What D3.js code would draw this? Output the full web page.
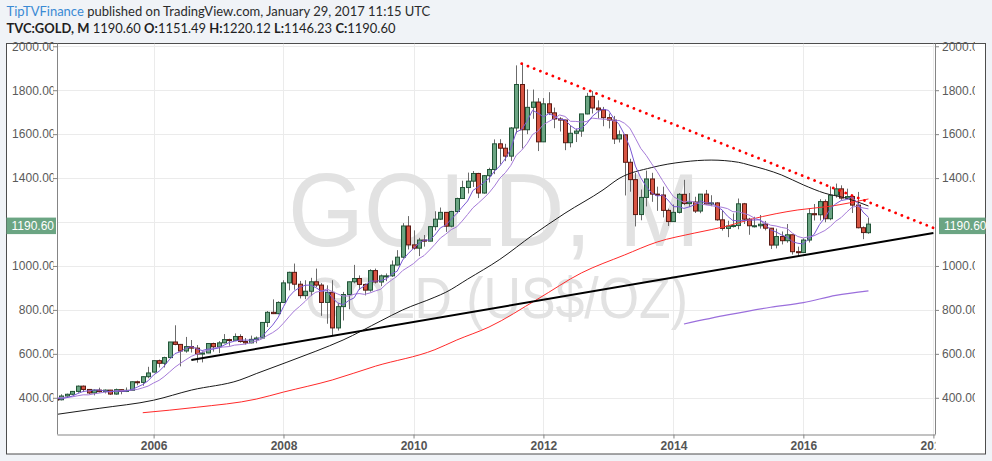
<!DOCTYPE html>
<html><head><meta charset="utf-8">
<script src="https://cdn.jsdelivr.net/npm/d3@7/dist/d3.min.js"></script>
<style>
html,body{margin:0;padding:0;background:#f0f3f7;}
svg{display:block;}
</style></head><body>
<svg id="chart" width="992" height="461"></svg>
<script>
// ---------- DATA (monthly TVC:GOLD, first month 2003-10) ----------
const firstMonth = "2003-10";
const opens = [
  388,386,397,
  416,403,396,424,387,394,394,391,408,416,429,453,
  438,422,435,428,435,417,437,429,434,473,470,496,
  517,569,557,583,654,643,613,633,626,599,604,647,
  632,650,665,662,679,656,650,666,672,743,789,783,
  834,923,971,917,865,885,928,913,834,880,718,815,
  870,928,943,916,890,979,927,955,955,1004,1040,1182,
  1096,1081,1118,1113,1179,1213,1244,1181,1248,1307,1357,1386,
  1421,1332,1411,1439,1556,1536,1500,1628,1826,1620,1722,1746,
  1565,1738,1697,1669,1664,1561,1604,1614,1692,1772,1719,1711,
  1675,1664,1578,1597,1472,1393,1234,1312,1396,1327,1323,1253,
  1202,1244,1326,1284,1291,1250,1327,1282,1287,1210,1171,1182,
  1184,1283,1213,1183,1183,1190,1172,1095,1134,1115,1142,1065,
  1061,1118,1238,1233,1293,1215,1322,1351,1309,1316,1277,1174,
  1151.49
];
const highs = [
  392,399,417,
  427,420,427,428,397,400,408,416,419,431,456,456,
  438,438,446,438,436,442,438,447,474,478,497,541,
  570,574,587,654,730,645,677,663,640,611,649,651,
  658,690,669,693,689,672,683,679,745,795,848,839,
  935,974,1011,932,935,946,988,922,912,935,830,882,
  929,1005,957,920,985,988,961,966,1025,1072,1195,1227,
  1162,1128,1141,1181,1249,1266,1245,1251,1311,1388,1425,1432,
  1424,1414,1447,1576,1577,1556,1632,1913,1921,1804,1803,1764,
  1764,1791,1721,1677,1666,1640,1625,1691,1788,1796,1754,1724,
  1694,1683,1617,1598,1488,1424,1348,1434,1424,1361,1361,1261,
  1280,1332,1392,1332,1315,1326,1346,1322,1290,1255,1206,1239,
  1307,1287,1219,1224,1232,1205,1173,1170,1157,1191,1142,1088,
  1126,1263,1282,1304,1303,1362,1375,1367,1352,1318,1337,1180,
  1220.12
];
const lows = [
  366,378,397,
  399,392,391,386,372,383,386,388,399,412,423,426,
  417,411,424,420,413,414,416,426,433,457,455,489,
  515,538,538,583,639,543,605,606,560,561,603,610,
  603,648,637,662,651,642,648,648,669,722,781,780,
  833,889,892,852,849,863,904,773,737,681,706,752,
  803,921,891,866,883,920,908,931,950,1003,1034,1075,
  1074,1045,1088,1112,1162,1209,1155,1176,1240,1308,1330,1360,
  1309,1329,1380,1418,1462,1477,1478,1603,1535,1600,1670,1523,
  1564,1687,1627,1612,1527,1540,1564,1588,1690,1694,1672,1636,
  1626,1555,1562,1321,1338,1180,1208,1271,1292,1251,1221,1182,
  1202,1239,1277,1268,1241,1240,1280,1272,1206,1161,1131,1175,
  1167,1191,1142,1175,1170,1162,1077,1080,1098,1106,1052,1046,
  1060,1107,1207,1207,1199,1208,1311,1301,1303,1241,1171,1122,
  1146.23
];
const closes = [
  386,397,416,
  402,396,424,387,394,395,391,408,416,429,453,438,
  422,435,428,435,417,437,429,434,473,470,496,513,
  569,557,583,654,643,613,633,626,599,604,647,632,
  650,665,662,679,656,650,666,672,743,789,783,834,
  923,971,917,865,885,928,913,834,880,718,815,870,
  928,943,916,890,979,927,955,955,1004,1040,1182,1096,
  1081,1118,1113,1179,1213,1244,1181,1248,1307,1357,1386,1421,
  1332,1411,1439,1556,1536,1500,1628,1826,1620,1722,1746,1565,
  1738,1697,1669,1664,1561,1604,1614,1692,1772,1719,1711,1675,
  1664,1578,1597,1472,1393,1234,1312,1396,1327,1323,1253,1202,
  1244,1326,1284,1291,1250,1327,1282,1287,1210,1171,1182,1184,
  1283,1213,1183,1183,1190,1172,1095,1134,1115,1142,1065,1061,
  1118,1238,1233,1293,1215,1322,1351,1309,1316,1277,1174,1152,
  1190.60
];
// Long moving averages (month, value)
const blackMA = [["2004-07",324],["2005-03",352],["2006-01",389],["2006-08",435],["2007-05",481],
  ["2007-08",510],["2008-07",612],["2008-12",663],["2009-07",750],["2009-11",800],["2010-05",858],
  ["2010-07",880],["2010-11",940],["2011-05",1030],["2011-11",1140],["2012-05",1240],["2012-12",1346],
  ["2013-03",1398],["2013-09",1448],["2014-03",1474],["2014-08",1482],["2015-01",1472],["2015-03",1460],
  ["2015-09",1414],["2016-01",1369],["2016-05",1331],["2016-09",1308],["2017-01",1273]];
const redMA = [["2005-11",332],["2006-09",357],["2007-08",394],["2008-01",426],["2008-10",481],
  ["2009-06",544],["2010-05",619],["2010-09",663],["2011-03",722],["2011-12",850],["2012-08",968],
  ["2013-04",1050],["2013-10",1109],["2014-05",1150],["2014-11",1182],["2015-03",1210],["2015-08",1238],
  ["2015-12",1255],["2016-06",1272],["2017-01",1305]];
const purpleMA = [["2014-03",736],["2014-11",777],["2015-07",812],["2016-01",833],["2016-07",866],["2017-01",887]];
// Drawn trend lines (date, value)
const supportLine = [["2006-08",572],["2018-01",1150]];
const resistanceLine = [["2011-09",1921],["2018-01",1173]];
// Axis ticks (the 1200.00 label sits under the last-price badge, so only its grid line shows)
const gridTicks = [400,600,800,1000,1200,1400,1600,1800,2000];
const priceTicks = [400,600,800,1000,1400,1600,1800,2000];
const yearTicks = [2006,2008,2010,2012,2014,2016,2018];
const lastPrice = 1190.60;

// ---------- CHART ----------
const svg = d3.select("#chart");
const L = 57, R = 935, T = 43.5, B = 434.5;
const parseM = d3.utcParse("%Y-%m");
const start = parseM(firstMonth);
const bars = opens.map((o,i)=>({date:d3.utcMonth.offset(start,i),o,h:highs[i],l:lows[i],c:closes[i]}));

const x = d3.scaleUtc().domain([new Date(Date.UTC(2004,6,7)), new Date(Date.UTC(2018,0,10))]).range([L,R]);
const y = d3.scaleLinear().domain([232.9, 2012.6]).range([B,T]);

const defs = svg.append("defs");
defs.append("clipPath").attr("id","plotClip").append("rect").attr("x",L).attr("y",T).attr("width",R-L).attr("height",B-T);
defs.append("clipPath").attr("id","lClip").append("rect").attr("x",-60).attr("y",-15).attr("width",56.5).attr("height",30);
defs.append("clipPath").attr("id","rClip").append("rect").attr("x",0).attr("y",-15).attr("width",40).attr("height",30);

// frame
svg.append("rect").attr("x",6.5).attr("y",43.5).attr("width",979).attr("height",410.5)
  .attr("fill","#fff").attr("stroke","#4d4d4d").attr("stroke-width",1);

// header
function fit(t, target){ const w=t.node().getComputedTextLength(); const fs=parseFloat(t.attr("font-size")); t.attr("font-size", fs*target/w); }
const h1 = svg.append("text").attr("x",6.5).attr("y",16).attr("font-family","Lato, 'Open Sans', sans-serif").attr("font-size",14).attr("fill","#2b2b2b");
h1.append("tspan").attr("fill","#3a8ad4").text("TipTVFinance");
h1.append("tspan").text(" published on TradingView.com, January 29, 2017 11:15 UTC");
fit(h1, 424);
const h2 = svg.append("text").attr("x",6.5).attr("y",33).attr("font-family","Lato, 'Open Sans', sans-serif").attr("font-size",14).attr("fill","#1f1f1f");
[["TVC:GOLD, M",true],[" 1190.60 ",false],["O:",true],["1151.49 ",false],["H:",true],["1220.12 ",false],["L:",true],["1146.23 ",false],["C:",true],["1190.60",false]]
  .forEach(([s,b])=>h2.append("tspan").attr("font-weight",b?"bold":"normal").text(s));
fit(h2, 389);

const plot = svg.append("g").attr("clip-path","url(#plotClip)");
// grid
plot.append("g").selectAll("line").data(gridTicks).join("line")
  .attr("x1",L).attr("x2",R).attr("y1",d=>Math.round(y(d))+0.5).attr("y2",d=>Math.round(y(d))+0.5)
  .attr("stroke","#ebebeb");
plot.append("g").selectAll("line").data(yearTicks).join("line")
  .attr("y1",T).attr("y2",B).attr("x1",d=>Math.round(x(new Date(Date.UTC(d,0,1))))+0.5).attr("x2",d=>Math.round(x(new Date(Date.UTC(d,0,1))))+0.5)
  .attr("stroke","#ebebeb");

// watermark
svg.append("text").attr("x",494).attr("y",246).attr("text-anchor","middle")
  .attr("font-family","'Liberation Sans', Arial, sans-serif").attr("font-size",104)
  .attr("textLength",412).attr("lengthAdjust","spacingAndGlyphs").attr("fill","#e2e2e2").text("GOLD, M");
svg.append("text").attr("x",496.5).attr("y",318).attr("text-anchor","middle")
  .attr("font-family","'Liberation Sans', Arial, sans-serif").attr("font-size",58)
  .attr("textLength",383).attr("lengthAdjust","spacingAndGlyphs").attr("fill","#e2e2e2").text("GOLD (US$/OZ)");

const plot2 = svg.append("g").attr("clip-path","url(#plotClip)");
// candles
const cg = plot2.append("g");
const cx = d=>Math.round(x(d.date))+0.5;
cg.selectAll("line").data(bars).join("line")
  .attr("x1",cx).attr("x2",cx).attr("y1",d=>y(d.h)).attr("y2",d=>y(d.l))
  .attr("stroke","#6b6b6b").attr("stroke-width",1);
cg.selectAll("rect").data(bars).join("rect")
  .attr("x",d=>cx(d)-2).attr("width",4)
  .attr("y",d=>y(Math.max(d.o,d.c)))
  .attr("height",d=>Math.max(1,Math.abs(y(d.o)-y(d.c))))
  .attr("fill",d=>d.c>=d.o?"#6ba583":"#d75442")
  .attr("stroke",d=>d.c>=d.o?"#225437":"#5b1a13").attr("stroke-width",1);

// moving averages
function sma(n){ return bars.map((b,i)=> i<n-1?null:{date:b.date,v:d3.mean(closes.slice(i-n+1,i+1))}).filter(d=>d); }
const line = d3.line().x(d=>x(d.date)).y(d=>y(d.v));
const lineC = d3.line().curve(d3.curveMonotoneX).x(d=>x(d.date)).y(d=>y(d.v));
const toPts = arr=>arr.map(([m,v])=>({date:parseM(m),v}));
plot2.append("path").attr("d",lineC(toPts(blackMA))).attr("fill","none").attr("stroke","#1a1a1a").attr("stroke-width",1);
plot2.append("path").attr("d",lineC(toPts(redMA))).attr("fill","none").attr("stroke","#ff2a2a").attr("stroke-width",1);
plot2.append("path").attr("d",lineC(toPts(purpleMA))).attr("fill","none").attr("stroke","#9b6fdc").attr("stroke-width",1.2);
plot2.append("path").attr("d",line(sma(10))).attr("fill","none").attr("stroke","#a57ad8").attr("stroke-width",1);
plot2.append("path").attr("d",line(sma(5))).attr("fill","none").attr("stroke","#7a58d4").attr("stroke-width",1);

// trend lines
plot2.append("path").attr("d",line(toPts(supportLine))).attr("stroke","#000").attr("stroke-width",2).attr("fill","none");
plot2.append("path").attr("d",line(toPts(resistanceLine))).attr("stroke","#ff0000").attr("stroke-width",2.8)
  .attr("stroke-dasharray","0.01 6.7").attr("stroke-linecap","round").attr("fill","none");

// axes
const fmt = d3.format(".2f");
const yl = svg.append("g").attr("transform",`translate(${L},0)`)
  .call(d3.axisLeft(y).tickValues(priceTicks).tickFormat(fmt).tickSize(4).tickPadding(-2.5).tickSizeOuter(0));
const yr = svg.append("g").attr("transform",`translate(${R},0)`)
  .call(d3.axisRight(y).tickValues(priceTicks).tickFormat(fmt).tickSize(4).tickPadding(3).tickSizeOuter(0));
const xa = svg.append("g").attr("transform",`translate(0,${B})`)
  .call(d3.axisBottom(x).tickValues(yearTicks.map(d=>new Date(Date.UTC(d,0,1)))).tickFormat(d3.utcFormat("%Y")).tickSize(4).tickPadding(3).tickSizeOuter(0));
[yl,yr,xa].forEach(g=>{
  g.select(".domain").attr("stroke","#858585");
  g.selectAll(".tick line").attr("stroke","#858585");
  g.selectAll("text").attr("font-family","'Liberation Sans', Arial, sans-serif").attr("font-size",12).attr("fill","#5a5a5a");
});
yl.select(".domain").attr("d",`M0.5,${T}V${B}`);
yr.select(".domain").attr("d",`M0.5,${T}V${B}`);
yl.selectAll("text").attr("clip-path","url(#lClip)");
yr.selectAll("text").attr("clip-path","url(#rClip)");
xa.selectAll("text").attr("font-weight","bold").attr("fill","#555");
// clip year labels to the axis span
xa.selectAll(".tick text").each(function(d){
  const tx = x(d);
  const cid = "xc"+d.getUTCFullYear();
  defs.append("clipPath").attr("id",cid).append("rect").attr("x",L-tx).attr("y",-5).attr("width",R-L).attr("height",30);
  d3.select(this).attr("clip-path",`url(#${cid})`);
});

// last price labels
const yp = y(lastPrice);
[[6.5,49.5],[939,46.5]].forEach(([bx,bw])=>{
  svg.append("rect").attr("x",bx).attr("y",yp-6.5).attr("width",bw).attr("height",16.5).attr("fill","#6ba583");
  svg.append("text").attr("x",bx+5).attr("y",yp+6).attr("font-family","'Liberation Sans', Arial, sans-serif")
    .attr("font-size",12).attr("fill","#fff").text(fmt(lastPrice));
});
</script>
</body></html>
